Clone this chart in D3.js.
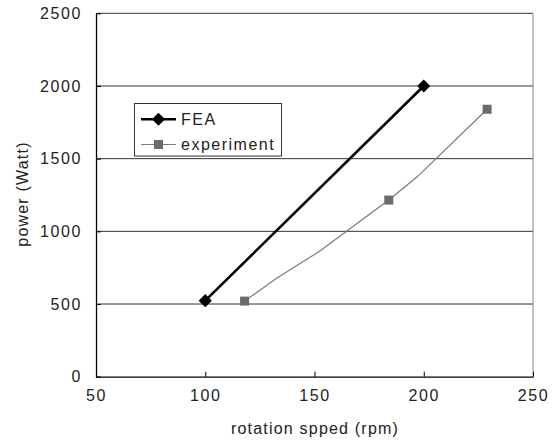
<!DOCTYPE html>
<html>
<head>
<meta charset="utf-8">
<script src="https://cdn.jsdelivr.net/npm/d3@7/dist/d3.min.js"></script>
<style>
  html, body { margin: 0; padding: 0; background: #fff; }
  text { font-family: "Liberation Sans", Arial, sans-serif; fill: #222; }
</style>
</head>
<body>
<svg id="chart" width="558" height="442"></svg>
<script>
// ---- data ----
const xTicks = [50, 100, 150, 200, 250];
const yTicks = [0, 500, 1000, 1500, 2000, 2500];
const seriesNames = ["FEA", "experiment"];
const feaX = [100, 200];
const feaY = [523, 2000];
const expX = [118, 133, 152, 184, 197, 229];
const expY = [520, 680, 860, 1215, 1375, 1840];
const expMarkerIdx = [0, 3, 5];
const xTitle = "rotation spped (rpm)";
const yTitle = "power (Watt)";

// ---- layout ----
const svg = d3.select("#chart");
const L = 96, R = 533, T = 13.3, B = 376.7;
const x = d3.scaleLinear().domain([50, 250]).range([L, R]);
const y = d3.scaleLinear().domain([0, 2500]).range([B, T]);
const fmt = d3.format("d");

// gridlines
svg.append("g").selectAll("line").data(yTicks.filter(d => d > 0)).join("line")
  .attr("x1", L).attr("x2", R)
  .attr("y1", d => y(d)).attr("y2", d => y(d))
  .attr("stroke", "#333").attr("stroke-width", 1);

// right border
svg.append("line").attr("x1", R).attr("x2", R).attr("y1", T).attr("y2", B)
  .attr("stroke", "#888").attr("stroke-width", 1);

// axes
const xAxis = d3.axisBottom(x).tickValues(xTicks).tickFormat(fmt).tickSizeInner(-5).tickSizeOuter(0).tickPadding(13);
const gx = svg.append("g").attr("transform", `translate(0,${B})`).call(xAxis);
gx.select(".domain").attr("stroke", "#000").attr("stroke-width", 1.3);
gx.selectAll(".tick line").attr("stroke", "#000");
gx.selectAll(".tick text").attr("font-size", 16).attr("letter-spacing", 1.6)
  .attr("font-family", "Liberation Sans, Arial, sans-serif").attr("fill", "#222");

const yAxis = d3.axisLeft(y).tickValues(yTicks).tickFormat(fmt).tickSizeInner(-5).tickSizeOuter(0).tickPadding(14);
const gy = svg.append("g").attr("transform", `translate(${L},0)`).call(yAxis);
gy.select(".domain").attr("stroke", "#000").attr("stroke-width", 1.3);
gy.selectAll(".tick line").attr("stroke", "#000");
gy.selectAll(".tick text").attr("font-size", 16).attr("letter-spacing", 1.6)
  .attr("font-family", "Liberation Sans, Arial, sans-serif").attr("fill", "#222");

// axis titles
svg.append("text").attr("x", 315).attr("y", 434).attr("text-anchor", "middle")
  .attr("font-size", 16).attr("letter-spacing", 1.2).text(xTitle);
svg.append("text").attr("transform", "translate(28,194) rotate(-90)")
  .attr("text-anchor", "middle").attr("font-size", 16).attr("letter-spacing", 1.2).text(yTitle);

// series
const line = d3.line().x(d => x(d[0])).y(d => y(d[1]));
const feaPts = feaX.map((v, i) => [v, feaY[i]]);
const expPts = expX.map((v, i) => [v, expY[i]]);

svg.append("path").datum(expPts).attr("d", line)
  .attr("fill", "none").attr("stroke", "#7a7a7a").attr("stroke-width", 1.2);
svg.append("g").selectAll("rect").data(expMarkerIdx.map(i => expPts[i])).join("rect")
  .attr("x", d => x(d[0]) - 4.5).attr("y", d => y(d[1]) - 4.5)
  .attr("width", 9).attr("height", 9).attr("fill", "#6b6b6b");

svg.append("path").datum(feaPts).attr("d", line)
  .attr("fill", "none").attr("stroke", "#000").attr("stroke-width", 2.6);
const diamond = d3.symbol().type(d3.symbolDiamond2).size(110);
svg.append("g").selectAll("path").data(feaPts).join("path")
  .attr("transform", d => `translate(${x(d[0])},${y(d[1])})`)
  .attr("d", diamond).attr("fill", "#000");

// legend
const lg = svg.append("g");
lg.append("rect").attr("x", 134.5).attr("y", 103.5).attr("width", 147).attr("height", 52.5)
  .attr("fill", "#fff").attr("stroke", "#333").attr("stroke-width", 1);
// FEA
lg.append("line").attr("x1", 141).attr("x2", 176).attr("y1", 119.3).attr("y2", 119.3)
  .attr("stroke", "#000").attr("stroke-width", 2.6);
lg.append("path").attr("transform", "translate(158.5,119.3)").attr("d", diamond).attr("fill", "#000");
lg.append("text").attr("x", 181).attr("y", 125).attr("font-size", 16).attr("letter-spacing", 1.5).text(seriesNames[0]);
// experiment
lg.append("line").attr("x1", 141).attr("x2", 176).attr("y1", 144.5).attr("y2", 144.5)
  .attr("stroke", "#7a7a7a").attr("stroke-width", 1.2);
lg.append("rect").attr("x", 154).attr("y", 140).attr("width", 9).attr("height", 9).attr("fill", "#6b6b6b");
lg.append("text").attr("x", 181).attr("y", 150).attr("font-size", 16).attr("letter-spacing", 1.5).text(seriesNames[1]);
</script>
</body>
</html>
